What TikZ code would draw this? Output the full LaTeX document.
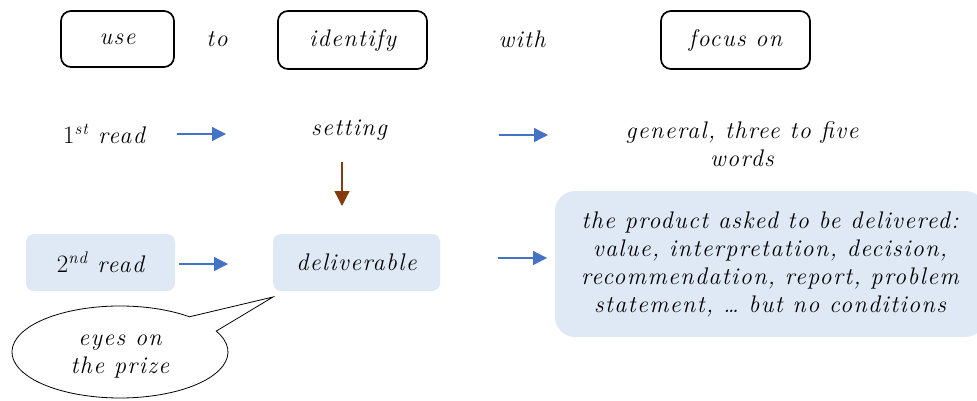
\documentclass[tikz,border=0pt]{standalone}
\usepackage{fontspec}
\usetikzlibrary{arrows.meta}
\newfontfamily\handfont[LetterSpace=6]{Latin Modern Roman}
\newfontfamily\digitfont{Latin Modern Roman}
\definecolor{paleblue}{HTML}{DEE9F5}
\definecolor{arrowblue}{HTML}{4472C4}
\definecolor{rust}{HTML}{843C0C}
\newcommand{\hw}{\handfont\itshape}
\tikzset{
  hand/.style={font=\fontsize{24}{28}\selectfont\hw, text=black, inner sep=0pt, align=center},
  frame/.style={hand, draw=black, line width=1.7pt, rounded corners=10pt},
  shaded/.style={hand, fill=paleblue, rounded corners=8pt},
  bluearrow/.style={draw=arrowblue, line width=1.3pt, -{Triangle[length=14pt,width=14pt]}},
  brownarrow/.style={draw=rust, line width=1.3pt, -{Triangle[length=15pt,width=15pt]}},
  bubble/.style={draw=black, line width=0.8pt, fill=white}
}
\newcommand{\nth}[2]{{\fontsize{25}{28}\selectfont\digitfont\upshape #1}\textsuperscript{\hw #2}}
\begin{document}
\begin{tikzpicture}[x=1pt,y=-1pt]
\useasboundingbox (0,0) rectangle (977,400);

% header row
\node[frame, minimum width=113pt, minimum height=56pt] (use) at (117.5,39) {use};
\node[hand] (to) at (217,39) {to};
\node[frame, minimum width=149pt, minimum height=58pt] (identify) at (352.5,40) {identify};
\node[hand] (with) at (522,39) {with};
\node[frame, minimum width=149pt, minimum height=58pt] (focus) at (735.5,40) {focus on};

% first reading
\node[hand] (read1) at (104,134) {\nth{1}{st} read};
\node[hand] (setting) at (349,130) {setting};
\node[hand] (general) at (742,144) {general, three to five\\words};
\coordinate (a1s) at (177,134);
\coordinate (a1e) at (226,134);
\coordinate (a2s) at (499,135);
\coordinate (a2e) at (548,135);
\draw[bluearrow] (a1s) -- (a1e);
\draw[bluearrow] (a2s) -- (a2e);

% setting leads to deliverable
\coordinate (b1s) at (342,162);
\coordinate (b1e) at (342,206);
\draw[brownarrow] (b1s) -- (b1e);

% second reading
\node[shaded, minimum width=149pt, minimum height=57pt] (read2) at (100.5,262.5) {\nth{2}{nd} read};
\node[shaded, minimum width=167pt, minimum height=57pt] (deliv) at (356.5,262.5) {deliverable};
\node[shaded, rounded corners=20pt, minimum width=430pt, minimum height=146pt] (product) at (770,264)
  {the product asked to be delivered:\\value, interpretation, decision,\\recommendation, report, problem\\statement, \dots\ but no conditions};
\coordinate (a3s) at (179,264);
\coordinate (a3e) at (228,264);
\coordinate (a4s) at (498,258);
\coordinate (a4e) at (547,258);
\draw[bluearrow] (a3s) -- (a3e);
\draw[bluearrow] (a4s) -- (a4e);

% speech bubble pointing at the deliverable
\coordinate (tip) at (273,297);
\draw[bubble] (189.4,316.8) -- (tip) -- (216.2,331.1)
  arc[start angle=-27, end angle=310, x radius=108, y radius=46] -- cycle;
\node[hand] (prize) at (120,357) {eyes on\\the prize};
\end{tikzpicture}
\end{document}
